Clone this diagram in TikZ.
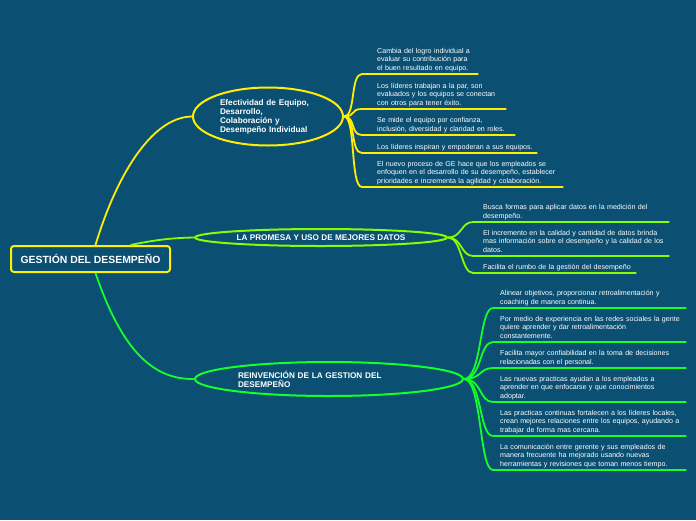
\documentclass[tikz,border=0pt]{standalone}
\usepackage{fontspec}
\setmainfont{Liberation Sans}
\usepackage{xcolor}
\usetikzlibrary{shapes.geometric, calc}

\definecolor{bgblue}{RGB}{11,80,115}
\definecolor{mmyellow}{RGB}{255,238,0}
\definecolor{mmlime}{RGB}{130,255,0}
\definecolor{mmgreen}{RGB}{20,255,40}

\begin{document}
\begin{tikzpicture}[
  x=1pt, y=-1pt,
  rootbox/.style={draw=mmyellow, line width=2pt, rounded corners=3pt,
                  fill=bgblue, text=white, inner sep=0pt,
                  minimum width=159pt, minimum height=26pt,
                  font=\bfseries\fontsize{10.4}{12}\selectfont},
  topic/.style={ellipse, line width=2pt, fill=bgblue, text=white,
                inner sep=0pt, align=left,
                font=\bfseries\fontsize{8.2}{9}\selectfont},
  leaf/.style={anchor=south west, text=white, align=left,
               inner xsep=0pt, inner ysep=2pt,
               execute at end node={\rule[-1.5pt]{0pt}{0pt}},
               font=\fontsize{7.1}{8.35}\selectfont},
  yline/.style={draw=mmyellow, line width=1.8pt},
  lline/.style={draw=mmlime, line width=1.8pt},
  gline/.style={draw=mmgreen, line width=1.8pt}
]
\fill[bgblue] (0,0) rectangle (696,520);
\useasboundingbox (0,0) rectangle (696,520);

% main topics
\node[rootbox] (root) at (90.5,259) {GESTIÓN DEL DESEMPEÑO};
\node[topic, draw=mmyellow, minimum width=150pt, minimum height=58pt,
      text width=96pt] (equipo) at (268,116.5)
      {Efectividad de Equipo,\\Desarrollo,\\Colaboración y\\Desempeño Individual};
\node[topic, draw=mmlime, minimum width=252pt, minimum height=17pt]
      (datos) at (321,237.5) {LA PROMESA Y USO DE MEJORES DATOS};
\node[topic, draw=mmgreen, minimum width=268pt, minimum height=34pt,
      text width=182pt] (reinv) at (329,379)
      {REINVENCIÓN DE LA GESTION DEL\\DESEMPEÑO};

\draw[yline] ([xshift=5pt]root.north) .. controls (115,180) and (150,117) .. (equipo.west);
\draw[lline] ([xshift=40pt]root.north) .. controls (155,240) and (170,238) .. (datos.west);
\draw[gline] ([xshift=5pt]root.south) .. controls (120,345) and (150,380) .. (reinv.west);

% equipo
\node[leaf, text width=101pt] (e1) at (377,74)
  {Cambia del logro individual a\\evaluar su contribución para\\el buen resultado en equipo.};
\node[leaf, text width=129pt] (e2) at (377,109)
  {Los líderes trabajan a la par, son\\evaluados y los equipos se conectan\\con otros para tener éxito.};
\node[leaf, text width=138pt] (e3) at (377,135)
  {Se mide el equipo por confianza,\\inclusión, diversidad y claridad en roles.};
\node[leaf, text width=160pt] (e4) at (377,153)
  {Los líderes inspiran y empoderan a sus equipos.};
\node[leaf, text width=186pt] (e5) at (377,187)
  {El nuevo proceso de GE hace que los empleados se\\enfoquen en el desarrollo de su desempeño, establecer\\prioridades e incrementa la agilidad y colaboración.};

\foreach \n in {e1,e2,e3,e4,e5}
  \draw[yline] (equipo.east) .. controls +(12,0) and +(-12,0) ..
    ([xshift=-15pt]\n.south west) -- (\n.south east);

% datos
\node[leaf, text width=186pt] (d1) at (483,222)
  {Busca formas para aplicar datos en la medición del\\desempeño.};
\node[leaf, text width=186pt] (d2) at (483,256)
  {El incremento en la calidad y cantidad de datos brinda\\mas información sobre el desempeño y la calidad de los\\datos.};
\node[leaf, text width=153pt] (d3) at (483,273)
  {Facilita el rumbo de la gestión del desempeño};

\foreach \n in {d1,d2,d3}
  \draw[lline] (datos.east) .. controls +(14,0) and +(-12,0) ..
    ([xshift=-10pt]\n.south west) -- (\n.south east);

% reinvencion
\node[leaf, text width=186pt] (r1) at (500,308)
  {Alinear objetivos, proporcionar retroalimentación y\\coaching de manera continua.};
\node[leaf, text width=186pt] (r2) at (500,342)
  {Por medio de experiencia en las redes sociales la gente\\quiere aprender y dar retroalimentación\\constantemente.};
\node[leaf, text width=186pt] (r3) at (500,368)
  {Facilita mayor confiabilidad en la toma de decisiones\\relacionadas con el personal.};
\node[leaf, text width=186pt] (r4) at (500,402)
  {Las nuevas practicas ayudan a los empleados a\\aprender en que enfocarse y que conocimientos\\adoptar.};
\node[leaf, text width=186pt] (r5) at (500,436)
  {Las practicas continuas fortalecen a los líderes locales,\\crean mejores relaciones entre los equipos, ayudando a\\trabajar de forma mas cercana.};
\node[leaf, text width=186pt] (r6) at (500,470)
  {La comunicación entre gerente y sus empleados de\\manera frecuente ha mejorado usando nuevas\\herramientas y revisiones que toman menos tiempo.};

\foreach \n in {r1,r2,r3,r4,r5,r6}
  \draw[gline] (reinv.east) .. controls +(18,0) and +(-14,0) ..
    ([xshift=-7pt]\n.south west) -- (\n.south east);
\end{tikzpicture}
\end{document}
